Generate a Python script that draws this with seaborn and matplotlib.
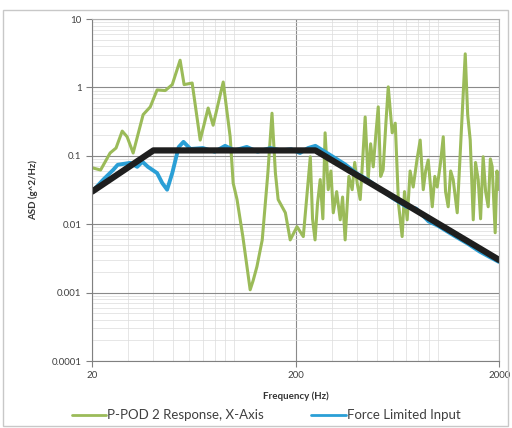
import numpy as np
import pandas as pd
import matplotlib
matplotlib.use("Agg")
import matplotlib.pyplot as plt
import seaborn as sns
from matplotlib.patches import Rectangle
from matplotlib.ticker import FixedLocator, NullFormatter, LogLocator

# P-POD 2 response, X-axis (green)
resp_freq = [20, 22, 24.5, 26.2, 28.1, 29.7, 31.8, 35.6, 38.6, 41.7, 45.7, 49.5, 54.1,
             56.6, 62, 67.9, 74.3, 78.6, 88.1, 95.3, 98.6, 103, 110, 119.5, 123.6, 129,
             137, 146, 153, 159, 164, 178, 188, 203, 218, 236, 242, 249, 256, 264, 272,
             279, 289, 298, 306, 318, 331, 340, 350, 365, 379, 390, 401, 415, 427, 439,
             454, 467, 481, 495, 509, 523, 538, 555, 570, 596, 617, 640, 667, 685, 706,
             730, 756, 790, 818, 847, 870, 896, 938, 965, 992, 1030, 1062, 1090, 1123,
             1155, 1188, 1244, 1300, 1362, 1400, 1441, 1491, 1530, 1577, 1620, 1668,
             1715, 1766, 1810, 1848, 1911, 1950, 2000]
resp_asd = [0.067, 0.062, 0.11, 0.13, 0.23, 0.19, 0.11, 0.40, 0.52, 0.92, 0.90, 1.1, 2.5,
            1.1, 1.16, 0.17, 0.50, 0.28, 1.2, 0.19, 0.040, 0.023, 0.0066, 0.0011, 0.0015,
            0.0024, 0.0059, 0.056, 0.42, 0.056, 0.023, 0.0147, 0.0059, 0.0092, 0.0066,
            0.097, 0.012, 0.0059, 0.02, 0.045, 0.012, 0.217, 0.032, 0.06, 0.0147, 0.03,
            0.0116, 0.025, 0.0059, 0.05, 0.032, 0.08, 0.040, 0.023, 0.09, 0.37, 0.045,
            0.15, 0.069, 0.2, 0.52, 0.05, 0.0625, 0.3, 1.02, 0.217, 0.30, 0.02, 0.0066,
            0.03, 0.0116, 0.06, 0.035, 0.09, 0.17, 0.032, 0.06, 0.087, 0.018, 0.05,
            0.035, 0.08, 0.19, 0.03, 0.018, 0.06, 0.045, 0.0147, 0.2, 3.1, 0.4, 0.17,
            0.0116, 0.08, 0.045, 0.012, 0.097, 0.03, 0.018, 0.09, 0.069, 0.0075, 0.06,
            0.032]

# Force limited input (blue)
input_freq = [20, 22.7, 25.4, 26.7, 30.8, 33.3, 35.3, 37.6, 41.7, 44.2, 46.7, 49.5, 53.2,
              56.2, 60.8, 70, 80, 90, 100, 115, 130, 150, 170, 190, 210, 230, 250, 300,
              350, 400, 450, 500, 600, 700, 780, 900, 1000, 1200, 1400, 1600, 1800, 2000]
input_asd = [0.030, 0.045, 0.0625, 0.074, 0.079, 0.069, 0.082, 0.069, 0.056, 0.040, 0.032,
             0.056, 0.134, 0.16, 0.126, 0.13, 0.115, 0.14, 0.12, 0.135, 0.115, 0.13, 0.12,
             0.125, 0.11, 0.13, 0.14, 0.10, 0.075, 0.055, 0.045, 0.036, 0.024, 0.018,
             0.017, 0.011, 0.0095, 0.0068, 0.0052, 0.0040, 0.0033, 0.0028]

# Test spec (black)
spec_freq = [20, 40, 250, 2000]
spec_asd = [0.03, 0.12, 0.12, 0.003]

resp = pd.DataFrame({"Frequency": resp_freq, "ASD": resp_asd})
fli = pd.DataFrame({"Frequency": input_freq, "ASD": input_asd})
spec = pd.DataFrame({"Frequency": spec_freq, "ASD": spec_asd})

sns.set_style("white")
plt.rcParams["font.family"] = ["Lato", "DejaVu Sans"]

fig = plt.figure(figsize=(5.12, 4.28), dpi=100)
ax = fig.add_axes([0.18, 0.1565, 0.795, 0.799])

sns.lineplot(data=resp, x="Frequency", y="ASD", ax=ax, color="#9bbb59", lw=2.2,
             label="P-POD 2 Response, X-Axis")
sns.lineplot(data=fli, x="Frequency", y="ASD", ax=ax, color="#2a9fd6", lw=2.8,
             label="Force Limited Input")
sns.lineplot(data=spec, x="Frequency", y="ASD", ax=ax, color="#1e1e1e", lw=4.5,
             legend=False)

ax.set_xscale("log")
ax.set_yscale("log")
ax.set_xlim(20, 2000)
ax.set_ylim(0.0001, 10)

ax.xaxis.set_major_locator(FixedLocator([20, 200, 2000]))
ax.set_xticklabels(["20", "200", "2000"])
ax.xaxis.set_minor_locator(FixedLocator([30, 40, 50, 60, 70, 80, 90, 100,
                                         300, 400, 500, 600, 700, 800, 900, 1000]))
ax.xaxis.set_minor_formatter(NullFormatter())
ax.yaxis.set_major_locator(FixedLocator([0.0001, 0.001, 0.01, 0.1, 1, 10]))
ax.set_yticklabels(["0.0001", "0.001", "0.01", "0.1", "1", "10"])
ax.yaxis.set_minor_locator(LogLocator(base=10, subs=np.arange(2, 10)))
ax.yaxis.set_minor_formatter(NullFormatter())

ax.grid(which="major", color="#8a8a8a", lw=0.8)
ax.grid(which="minor", color="#dcdcdc", lw=0.5)
ax.set_axisbelow(True)
for s in ax.spines.values():
    s.set_color("#b0b0b0")
ax.spines["left"].set_color("#808080")
ax.spines["bottom"].set_color("#808080")
ax.tick_params(which="major", axis="both", length=4, color="#808080",
               labelsize=7, labelcolor="#404040", left=True, bottom=True)
ax.tick_params(which="minor", length=0)

ax.set_xlabel("Frequency (Hz)", fontsize=7, fontweight="bold", color="#333333", labelpad=8)
ax.set_ylabel("ASD (g^2/Hz)", fontsize=7, fontweight="bold", color="#333333", labelpad=10)

leg = ax.legend(loc="center", bbox_to_anchor=(0.52, 0.03), bbox_transform=fig.transFigure,
                ncol=2, frameon=False, fontsize=9.5, handlelength=2.6, handletextpad=0.1,
                columnspacing=3.6, labelcolor="#404040", borderaxespad=0)
for h in leg.get_lines():
    h.set_linewidth(2)

fig.patches.append(Rectangle((3 / 512, 2 / 428), 505 / 512, 416 / 428,
                             transform=fig.transFigure, fill=False,
                             edgecolor="#c8c8c8", lw=1))

fig.savefig("out.png", dpi=100)
